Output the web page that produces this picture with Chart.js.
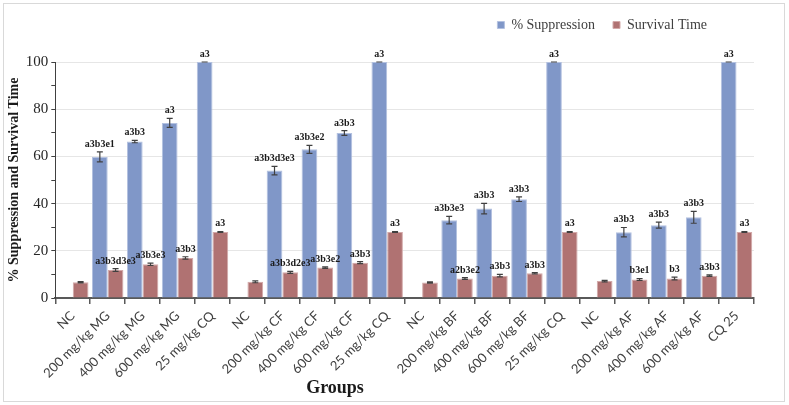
<!DOCTYPE html>
<html>
<head>
<meta charset="utf-8">
<script src="https://cdn.jsdelivr.net/npm/chart.js@4"></script>
<style>
  body { margin: 0; background: #fff; }
</style>
</head>
<body>
<canvas id="chart" width="789" height="405"></canvas>
<script>
const groups = ['NC', '200 mg/kg MG', '400 mg/kg MG', '600 mg/kg MG', '25 mg/kg CQ',
  'NC', '200 mg/kg CF', '400 mg/kg CF', '600 mg/kg CF', '25 mg/kg CQ',
  'NC', '200 mg/kg BF', '400 mg/kg BF', '600 mg/kg BF', '25 mg/kg CQ',
  'NC', '200 mg/kg AF', '400 mg/kg AF', '600 mg/kg AF', 'CQ 25'];

const suppression = [null, 59.8, 66.3, 74.2, 100, null, 54.0, 63.0, 69.9, 100,
  null, 33.0, 37.9, 41.9, 100, null, 27.9, 30.9, 34.2, 100];
const suppressionErr = [0, 2.1, 0.5, 1.9, 0, 0, 1.8, 1.7, 1.0, 0,
  0, 1.6, 2.2, 1.0, 0, 0, 2.0, 1.3, 2.5, 0];
const suppressionLabels = ['', 'a3b3e1', 'a3b3', 'a3', 'a3', '', 'a3b3d3e3', 'a3b3e2', 'a3b3', 'a3',
  '', 'a3b3e3', 'a3b3', 'a3b3', 'a3', '', 'a3b3', 'a3b3', 'a3b3', 'a3'];

const survival = [6.7, 11.9, 14.3, 17.0, 28.0, 6.9, 10.9, 12.9, 15.0, 28.0,
  6.6, 8.3, 9.5, 10.5, 28.0, 7.2, 7.9, 8.3, 9.5, 28.0];
const survivalErr = [0.3, 0.6, 0.5, 0.5, 0.2, 0.4, 0.4, 0.3, 0.4, 0.2,
  0.3, 0.4, 0.5, 0.3, 0.2, 0.3, 0.4, 0.6, 0.3, 0.2];
const survivalLabels = ['', 'a3b3d3e3', 'a3b3e3', 'a3b3', 'a3', '', 'a3b3d2e3', 'a3b3e2', 'a3b3', 'a3',
  '', 'a2b3e2', 'a3b3', 'a3b3', 'a3', '', 'b3e1', 'b3', 'a3b3', 'a3'];

const serif = 'Liberation Serif';

// frame around the whole picture
const frame = {
  id: 'frame',
  beforeDraw(chart) {
    const ctx = chart.ctx;
    ctx.save();
    ctx.fillStyle = '#fff';
    ctx.fillRect(0, 0, chart.width, chart.height);
    ctx.strokeStyle = '#d9d9d9';
    ctx.lineWidth = 1;
    ctx.strokeRect(3.5, 3.5, 781, 398);
    ctx.restore();
  }
};

// move the legend to the upper right, away from the plot
const legendShift = {
  id: 'legendShift',
  afterLayout(chart) {
    const lg = chart.legend;
    lg.right = 725;
    lg.top -= 20;
    lg.bottom -= 20;
  }
};

// error bars + letters above them
const errorBars = {
  id: 'errorBars',
  afterDatasetsDraw(chart) {
    const ctx = chart.ctx;
    const y = chart.scales.y;
    ctx.save();
    chart.data.datasets.forEach((ds, i) => {
      const meta = chart.getDatasetMeta(i);
      meta.data.forEach((bar, j) => {
        const v = ds.data[j];
        if (v == null) return;
        const e = ds.errors[j];
        const top = y.getPixelForValue(v + e);
        const bot = y.getPixelForValue(v - e);
        ctx.strokeStyle = '#404040';
        ctx.lineWidth = 1.2;
        ctx.beginPath();
        ctx.moveTo(bar.x, top); ctx.lineTo(bar.x, bot);
        ctx.moveTo(bar.x - 3, top); ctx.lineTo(bar.x + 3, top);
        ctx.moveTo(bar.x - 3, bot); ctx.lineTo(bar.x + 3, bot);
        ctx.stroke();
        const txt = ds.letters[j];
        if (txt) {
          ctx.fillStyle = '#1a1a1a';
          ctx.font = 'bold 10px "' + serif + '"';
          ctx.textAlign = 'center';
          ctx.textBaseline = 'alphabetic';
          ctx.fillText(txt, bar.x, top - 5);
        }
      });
    });
    ctx.restore();
  }
};

const groupsTitle = {
  id: 'groupsTitle',
  afterDraw(chart) {
    const ctx = chart.ctx;
    ctx.save();
    ctx.fillStyle = '#1a1a1a';
    ctx.font = 'bold 18px "' + serif + '"';
    ctx.textAlign = 'center';
    ctx.textBaseline = 'middle';
    ctx.fillText('Groups', 335, 388);
    ctx.restore();
  }
};

const chart = new Chart(document.getElementById('chart'), {
  type: 'bar',
  data: {
    labels: groups,
    datasets: [
      {
        label: '% Suppression',
        data: suppression,
        errors: suppressionErr,
        letters: suppressionLabels,
        backgroundColor: '#8097c8',
        borderColor: '#b3c1e0',
        borderWidth: 1
      },
      {
        label: 'Survival Time',
        data: survival,
        errors: survivalErr,
        letters: survivalLabels,
        backgroundColor: '#b07272',
        borderColor: '#d3a9a9',
        borderWidth: 1
      }
    ]
  },
  options: {
    responsive: false,
    animation: false,
    devicePixelRatio: 1,
    layout: { padding: { left: 6, right: 35, top: 20, bottom: 20 } },
    datasets: { bar: { categoryPercentage: 0.9, barPercentage: 1.0 } },
    plugins: {
      tooltip: { enabled: false },
      legend: {
        position: 'top',
        align: 'end',
        labels: {
          font: { family: serif, size: 14 },
          color: '#404040',
          boxWidth: 7,
          boxHeight: 7,
          padding: 18
        }
      }
    },
    scales: {
      x: {
        grid: { drawOnChartArea: false, tickLength: 6, color: '#595959', tickColor: '#595959', lineWidth: 1.5 },
        border: { color: '#595959', width: 2 },
        ticks: {
          autoSkip: false,
          minRotation: 45,
          maxRotation: 45,
          padding: 4,
          color: '#404040',
          font: { family: 'Lato', size: 13 }
        }
      },
      y: {
        min: 0,
        max: 100,
        grid: {
          color: c => (c.tick && c.tick.value % 20 === 0 && c.tick.value !== 0) ? '#e6e6e6' : 'rgba(0,0,0,0)',
          tickColor: '#404040',
          tickLength: 4
        },
        border: { color: '#404040', width: 1 },
        ticks: {
          stepSize: 5,
          padding: 3,
          color: '#262626',
          font: { family: serif, size: 15 },
          callback: v => v % 20 === 0 ? v : ''
        },
        title: {
          display: true,
          text: '% Suppression and Survival Time',
          color: '#1a1a1a',
          font: { family: serif, size: 14, weight: 'bold' },
          padding: { top: 0, bottom: 0 }
        }
      }
    }
  },
  plugins: [frame, legendShift, errorBars, groupsTitle]
});
</script>
</body>
</html>
